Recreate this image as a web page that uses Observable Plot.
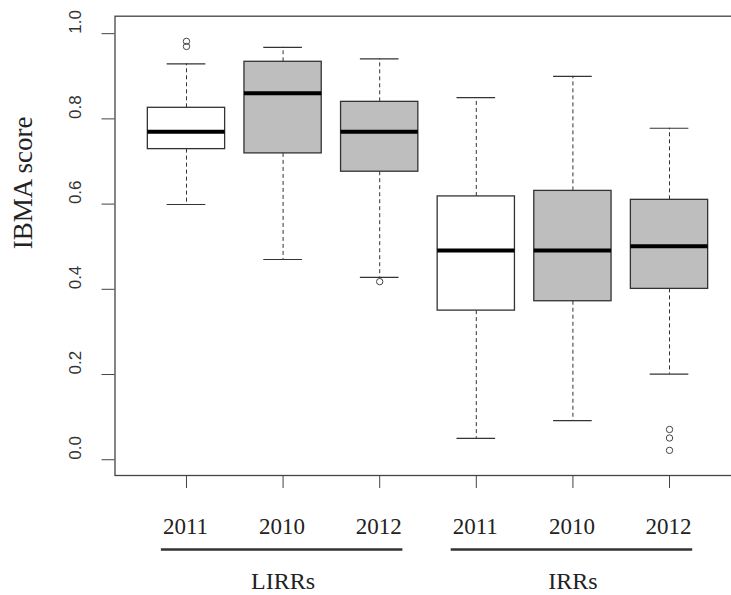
<!DOCTYPE html>
<html><head><meta charset="utf-8">
<script src="https://cdn.jsdelivr.net/npm/d3@7"></script>
<script src="https://cdn.jsdelivr.net/npm/@observablehq/plot@0.6"></script>
<style>body{margin:0;background:#fff}</style>
</head><body><div id="chart"></div>
<script>
const categories = ["2011","2010","2012","2011","2010","2012"];
const groups = ["LIRRs","LIRRs","LIRRs","IRRs","IRRs","IRRs"];
const q1 = [0.729,0.719,0.676,0.350,0.372,0.401];
const median = [0.770,0.860,0.770,0.491,0.491,0.501];
const q3 = [0.826,0.934,0.840,0.618,0.631,0.610];
const lowerWhisker = [0.599,0.470,0.428,0.050,0.092,0.201];
const upperWhisker = [0.929,0.968,0.941,0.850,0.900,0.778];
const outliers = [[0.982,0.970],[],[0.418],[],[],[0.071,0.051,0.022]];
const yTicks = [0,0.2,0.4,0.6,0.8,1.0];
const yLabel = "IBMA score";

const yDomain = [-0.037, 1.041];
const boxes = categories.map((c,i)=>({pos:i+1, cat:c, group:groups[i], q1:q1[i], med:median[i], q3:q3[i], lo:lowerWhisker[i], hi:upperWhisker[i]}));
const outs = outliers.flatMap((arr,i)=>arr.map(v=>({pos:i+1, v})));
const groupRows = d3.groups(boxes, d=>d.group).map(([name, rows])=>({name, start:d3.min(rows,r=>r.pos), end:d3.max(rows,r=>r.pos), mid:d3.mean(rows,r=>r.pos)}));

const serif = "'Liberation Serif', 'Times New Roman', serif";
const sans = "'Liberation Sans', Arial, sans-serif";
const ink = "#333";

const chart = Plot.plot({
  width:731, height:595,
  marginLeft:114.5, marginRight:-9.5, marginTop:15.7, marginBottom:120,
  x:{type:"linear", domain:[0.26,6.74]},
  y:{domain:yDomain},
  style:{background:"white"},
  marks:[
    Plot.frame({stroke:"#444", strokeWidth:1.3}),
    Plot.axisY(yTicks, {tickSize:13, stroke:"#444", fill:"none", label:null}),
    Plot.axisX(boxes.map(d=>d.pos), {tickSize:13, stroke:"#444", fill:"none", label:null}),
    Plot.text(yTicks, {y:d=>d, text:d=>d.toFixed(1), frameAnchor:"left", dx:-39.5, rotate:-90, lineAnchor:"middle", fontSize:17, fontFamily:sans, fill:ink}),
    Plot.text([yLabel], {text:d=>d, frameAnchor:"left", dx:-92, dy:3.5, rotate:-90, lineAnchor:"middle", fontSize:27, fontFamily:serif, fill:"#222"}),
    Plot.ruleX(boxes, {x:"pos", y1:"q3", y2:"hi", stroke:ink, strokeDasharray:"4,3"}),
    Plot.ruleX(boxes, {x:"pos", y1:"q1", y2:"lo", stroke:ink, strokeDasharray:"4,3"}),
    Plot.ruleY(boxes, {y:"hi", x1:d=>d.pos-0.2, x2:d=>d.pos+0.2, stroke:ink, strokeWidth:1.2}),
    Plot.ruleY(boxes, {y:"lo", x1:d=>d.pos-0.2, x2:d=>d.pos+0.2, stroke:ink, strokeWidth:1.2}),
    Plot.rect(boxes, {x1:d=>d.pos-0.4, x2:d=>d.pos+0.4, y1:"q1", y2:"q3", fill:d=>d.cat==="2011"?"white":"#bebebe", stroke:ink, strokeWidth:1.3}),
    Plot.ruleY(boxes, {y:"med", x1:d=>d.pos-0.4, x2:d=>d.pos+0.4, stroke:"#000", strokeWidth:4}),
    Plot.dot(outs, {x:"pos", y:"v", r:3.2, stroke:"#444", fill:"none", strokeWidth:1}),
    Plot.text(boxes, {x:"pos", text:"cat", frameAnchor:"bottom", dx:-1, dy:50.8, lineAnchor:"middle", fontSize:23, fontFamily:serif, fill:"#222"}),
    Plot.ruleY(groupRows, {y:()=>yDomain[0], dy:74, x1:g=>g.start-0.26, x2:g=>g.end+0.24, stroke:"#333", strokeWidth:2.6}),
    Plot.text(groupRows, {x:"mid", text:"name", frameAnchor:"bottom", dy:105.5, lineAnchor:"middle", fontSize:24, fontFamily:serif, fill:"#222"})
  ]
});
document.getElementById("chart").appendChild(chart);
</script>
</body></html>
